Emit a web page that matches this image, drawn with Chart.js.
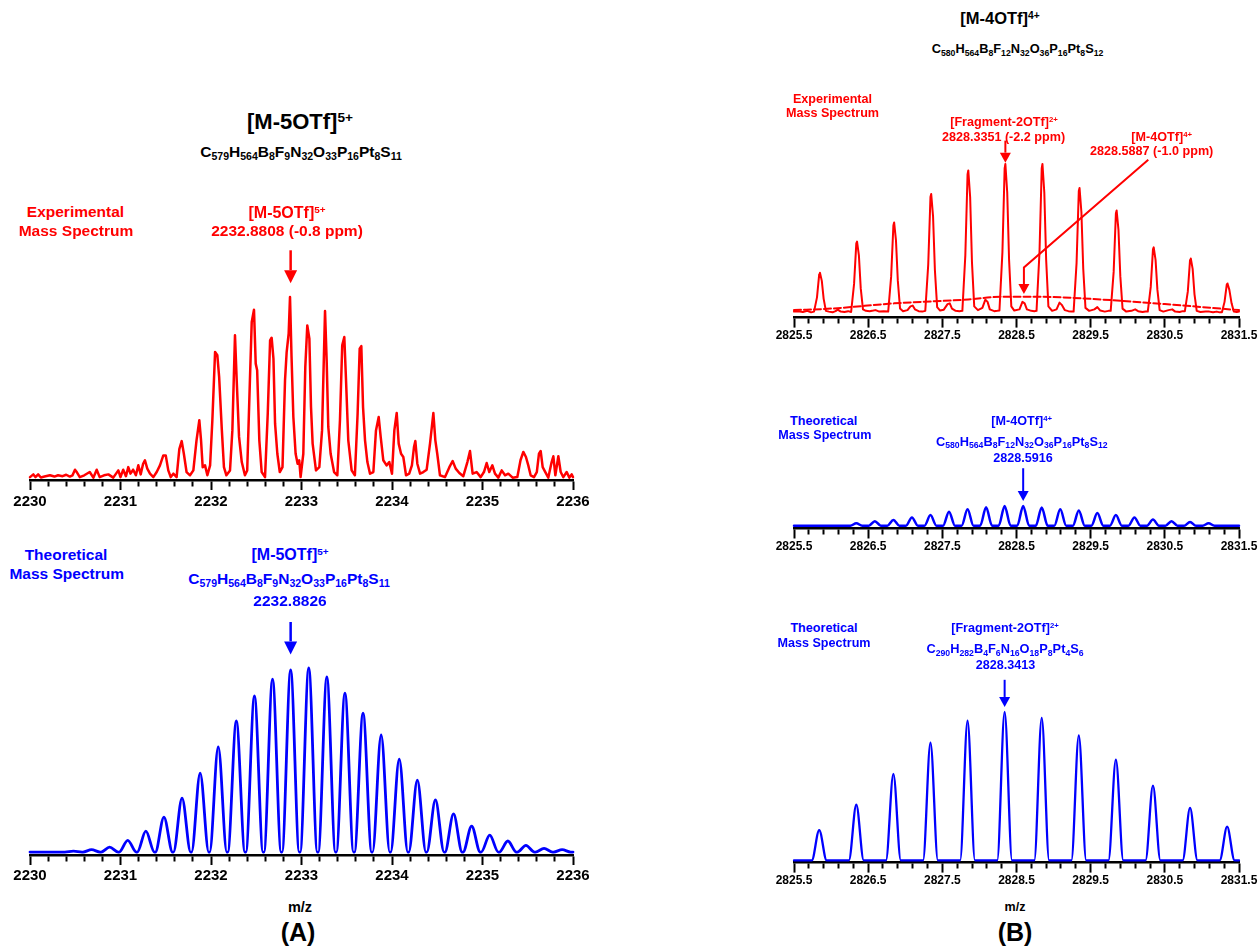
<!DOCTYPE html>
<html>
<head>
<meta charset="utf-8">
<script src="https://cdn.jsdelivr.net/npm/chart.js@4.4.1/dist/chart.umd.min.js"></script>
<style>
  body { margin: 0; background: #fff; }
  #fig { position: relative; width: 1260px; height: 949px; overflow: hidden; background: #fff;
         font-family: "Liberation Sans", Arial, Helvetica, sans-serif; }
  #fig canvas { position: absolute; }
  .t { position: absolute; transform: translate(-50%, -50%); white-space: nowrap; font-weight: bold; line-height: 1; }
  .t sup { font-size: 0.62em; position: relative; top: -0.5em; vertical-align: baseline; line-height: 0; }
  .t sub { font-size: 0.68em; position: relative; top: 0.28em; vertical-align: baseline; line-height: 0; }
</style>
</head>
<body>
<div id="fig">
  <canvas id="aExp"></canvas>
  <canvas id="aTheo"></canvas>
  <canvas id="bExp"></canvas>
  <canvas id="bTheo4"></canvas>
  <canvas id="bTheo2"></canvas>
</div>
<script>
const FONT = '"Liberation Sans", Arial, Helvetica, sans-serif';
const RED = '#ff0000';
const BLUE = '#0000ff';

// ---- tick labels ----
const ticksA = [2230, 2231, 2232, 2233, 2234, 2235, 2236];
const ticksB = [2825.5, 2826.5, 2827.5, 2828.5, 2829.5, 2830.5, 2831.5];

// ---- (A) experimental trace, [m/z, relative intensity] ----
const expA_trace = [
  [2230.00, 0.5], [2230.037, 2], [2230.06, 0.5], [2230.09, 2], [2230.12, 0.3], [2230.16, 0.8],
  [2230.22, 1.5], [2230.27, 0.8], [2230.31, 1.5], [2230.36, 1], [2230.40, 1.8], [2230.44, 0.8],
  [2230.47, 1.5], [2230.497, 4.6], [2230.52, 3], [2230.55, 0.5], [2230.60, 1.5], [2230.66, 3.3],
  [2230.70, 0.2], [2230.737, 4.6], [2230.77, 0.5], [2230.818, 1.5], [2230.866, 2], [2230.92, 0.2],
  [2230.976, 4.2], [2231.00, 0.5], [2231.03, 4.6], [2231.06, 1], [2231.086, 6], [2231.11, 2.4],
  [2231.14, 4.6], [2231.17, 1.5], [2231.197, 7], [2231.223, 2], [2231.25, 7.9], [2231.27, 9.8],
  [2231.296, 5.2], [2231.326, 2.4], [2231.363, 0.5], [2231.40, 3.3], [2231.436, 7], [2231.473, 12.5],
  [2231.50, 12.5], [2231.528, 4.2], [2231.555, 0.5], [2231.584, 2.4], [2231.62, 0.5], [2231.65, 16],
  [2231.676, 20.4], [2231.70, 13.4], [2231.73, 3.3], [2231.768, 1.5], [2231.805, 4.2], [2231.84, 20.8],
  [2231.871, 31.9], [2231.89, 20.8], [2231.908, 6], [2231.934, 7], [2231.96, 1.5], [2231.99, 7],
  [2232.015, 31.9], [2232.045, 69.6], [2232.07, 67.8], [2232.09, 55.8], [2232.12, 26.3], [2232.143, 6],
  [2232.17, 1.5], [2232.21, 4.2], [2232.236, 26.3], [2232.265, 78.8], [2232.284, 54], [2232.31, 22.7],
  [2232.34, 8.8], [2232.375, 1.5], [2232.40, 4.2], [2232.43, 54], [2232.45, 86.2], [2232.475, 93],
  [2232.494, 63.2], [2232.51, 59.5], [2232.534, 20.8], [2232.56, 3.3], [2232.597, 0.5], [2232.627, 35.5],
  [2232.653, 76], [2232.67, 77.5], [2232.69, 66], [2232.708, 30], [2232.733, 13.4], [2232.76, 3.3],
  [2232.79, 6], [2232.818, 54], [2232.836, 69.6], [2232.858, 79.7], [2232.873, 100], [2232.89, 66.9],
  [2232.91, 33.7], [2232.935, 13.4], [2232.957, 7.9], [2232.975, 9.8], [2232.99, 0.5], [2233.02, 13.4],
  [2233.042, 61.3], [2233.064, 84.3], [2233.087, 77], [2233.105, 39.2], [2233.123, 19], [2233.16, 4.2],
  [2233.197, 6], [2233.227, 26.3], [2233.26, 92.3], [2233.278, 65], [2233.296, 28.2], [2233.322, 13.4],
  [2233.36, 3.3], [2233.396, 1.5], [2233.425, 31.9], [2233.45, 73.3], [2233.473, 77.9], [2233.492, 54],
  [2233.517, 20.8], [2233.554, 4.2], [2233.59, 1.5], [2233.62, 35.5], [2233.643, 71.5], [2233.661, 72.9],
  [2233.68, 39.2], [2233.702, 20.8], [2233.728, 8.8], [2233.757, 2.4], [2233.794, 3.3], [2233.823, 26.3],
  [2233.853, 33.7], [2233.875, 22.7], [2233.904, 9.8], [2233.94, 7], [2233.97, 8.8], [2234.00, 2.4],
  [2234.026, 26.3], [2234.052, 35.9], [2234.074, 19], [2234.10, 13.4], [2234.125, 11.6], [2234.155, 1.5],
  [2234.19, 2.4], [2234.22, 7], [2234.243, 17.1], [2234.258, 20.4], [2234.28, 7.9], [2234.31, 2.4],
  [2234.346, 3.3], [2234.383, 4.6], [2234.42, 19], [2234.457, 35.9], [2234.479, 20.8], [2234.50, 13.4],
  [2234.53, 1.5], [2234.586, 0.5], [2234.634, 6], [2234.67, 9.4], [2234.704, 5.2], [2234.744, 2.8],
  [2234.788, 1], [2234.833, 8.8], [2234.862, 14.9], [2234.891, 2.4], [2234.935, 3.3], [2234.98, 0.5],
  [2235.016, 3.3], [2235.046, 8.3], [2235.075, 3.3], [2235.109, 7], [2235.138, 2.4], [2235.175, 0.2],
  [2235.212, 4.2], [2235.249, 1.5], [2235.285, 2.4], [2235.333, 0.2], [2235.385, 0.5], [2235.42, 9.8],
  [2235.451, 14.4], [2235.48, 11.6], [2235.506, 7], [2235.532, 1.5], [2235.569, 0.5], [2235.60, 3.3],
  [2235.624, 13.4], [2235.643, 14.9], [2235.665, 6], [2235.694, 3.3], [2235.727, 0.2], [2235.764, 8.8],
  [2235.783, 12], [2235.805, 1.5], [2235.838, 12], [2235.864, 3.3], [2235.893, 0.5], [2235.93, 3.3],
  [2235.96, 0.2], [2235.985, 2], [2236.00, 0.5]
];

// ---- (A) theoretical isotope peaks ----
const theoA_mz = [2230.48, 2230.68, 2230.88, 2231.08, 2231.28, 2231.48, 2231.68, 2231.88, 2232.08, 2232.28,
  2232.48, 2232.68, 2232.88, 2233.08, 2233.28, 2233.48, 2233.68, 2233.88, 2234.08, 2234.28,
  2234.48, 2234.68, 2234.88, 2235.08, 2235.28, 2235.48, 2235.68, 2235.88];
const theoA_int = [0.5, 1.3, 2.7, 6.4, 11.4, 19, 29.3, 42.9, 57.1, 71.2,
  84.8, 94, 98.9, 100, 95.1, 86.4, 75.5, 63.6, 50.5, 39.1,
  28.3, 20.7, 14.1, 9.2, 6, 3.6, 2, 1.3];

// ---- (B) experimental trace, [m/z, relative intensity] ----
const expB_trace = [
  [2825.50, 1.5], [2825.56, 1.8], [2825.62, 1.2], [2825.68, 2.0], [2825.73, 1.0],
  [2825.77, 1.5], [2825.81, 11], [2825.84, 26.5], [2825.85, 27.4], [2825.875, 22], [2825.90, 10], [2825.93, 2],
  [2825.97, 1.5], [2826.02, 1.0], [2826.06, 1.8], [2826.09, 2.8], [2826.13, 1.5], [2826.18, 1.2], [2826.23, 1.8],
  [2826.27, 1.2], [2826.31, 20], [2826.34, 47], [2826.35, 48.2], [2826.375, 39], [2826.40, 17], [2826.43, 3],
  [2826.47, 2], [2826.52, 1.8], [2826.57, 2.2], [2826.60, 2.5], [2826.65, 1.5], [2826.71, 1.8],
  [2826.77, 1.5], [2826.81, 25], [2826.84, 59], [2826.85, 61], [2826.875, 49], [2826.90, 22], [2826.93, 3.5],
  [2826.97, 1.8], [2827.03, 2.5], [2827.07, 5], [2827.10, 5.5], [2827.13, 3], [2827.18, 1.8], [2827.23, 1.5],
  [2827.27, 2], [2827.31, 33], [2827.34, 78], [2827.35, 80], [2827.375, 65], [2827.40, 29], [2827.43, 4.5],
  [2827.47, 2.2], [2827.52, 2.8], [2827.57, 6.5], [2827.60, 7], [2827.63, 3.5], [2827.68, 2], [2827.73, 1.8],
  [2827.77, 2], [2827.81, 39], [2827.84, 93], [2827.85, 95.7], [2827.875, 78], [2827.90, 34], [2827.93, 5],
  [2827.98, 2.5], [2828.04, 4], [2828.08, 9.5], [2828.11, 8], [2828.14, 3], [2828.20, 1.8], [2828.24, 2],
  [2828.27, 2.2], [2828.31, 41], [2828.34, 97], [2828.35, 100], [2828.375, 81], [2828.40, 36], [2828.43, 5],
  [2828.47, 2.2], [2828.54, 3], [2828.58, 8], [2828.61, 7], [2828.64, 3], [2828.70, 2], [2828.74, 1.8],
  [2828.77, 2], [2828.81, 41], [2828.84, 97], [2828.85, 100], [2828.875, 81], [2828.90, 36], [2828.93, 5],
  [2828.98, 2], [2829.04, 3], [2829.08, 7.5], [2829.11, 6], [2829.15, 2.5], [2829.20, 1.8], [2829.24, 1.5],
  [2829.27, 1.5], [2829.31, 34], [2829.34, 82], [2829.35, 84], [2829.375, 68], [2829.40, 30], [2829.43, 4],
  [2829.48, 2], [2829.55, 3], [2829.59, 4.5], [2829.63, 2.2], [2829.69, 1.5], [2829.74, 2],
  [2829.77, 2], [2829.81, 28], [2829.84, 67], [2829.85, 69], [2829.875, 56], [2829.90, 25], [2829.93, 3.5],
  [2829.98, 1.5], [2830.05, 2], [2830.10, 3], [2830.14, 1.8], [2830.20, 1.2], [2830.24, 1.5],
  [2830.27, 1.5], [2830.31, 18], [2830.34, 43], [2830.35, 44.4], [2830.375, 36], [2830.40, 16], [2830.43, 2.5],
  [2830.48, 1.5], [2830.55, 2.5], [2830.60, 3], [2830.64, 1.5], [2830.70, 1.2], [2830.74, 1.8],
  [2830.77, 1.8], [2830.81, 15], [2830.84, 36], [2830.85, 37], [2830.875, 30], [2830.90, 13], [2830.93, 2],
  [2830.98, 1.2], [2831.05, 1.5], [2831.10, 1.5], [2831.15, 1], [2831.20, 1.5], [2831.24, 1],
  [2831.27, 1], [2831.305, 8], [2831.335, 19.5], [2831.345, 20.3], [2831.37, 16], [2831.40, 7], [2831.43, 1.5],
  [2831.47, 1.2], [2831.50, 1.5]
];
// broad overlaid envelope in the experimental (B) panel
const envB_mz = [2825.5, 2826.0, 2826.85, 2827.85, 2828.3, 2828.8, 2829.5, 2830.5, 2831.5];
const envB_int = [2.5, 3.5, 7, 9.6, 11.4, 11.4, 10, 6.5, 2.5];

// ---- (B) theoretical [M-4OTf]4+ ----
const theoB4_mz = [2826.34, 2826.59, 2826.84, 2827.09, 2827.34, 2827.59, 2827.84, 2828.09, 2828.34, 2828.59,
  2828.84, 2829.09, 2829.34, 2829.59, 2829.84, 2830.09, 2830.34, 2830.59, 2830.84, 2831.09];
const theoB4_int = [12.5, 23, 29, 42, 54, 71, 83, 94, 100, 100, 92, 83, 77, 64, 54, 42, 31, 23, 19, 12.5];

// ---- (B) theoretical [Fragment-2OTf]2+ ----
const theoB2_mz = [2825.84, 2826.34, 2826.84, 2827.34, 2827.84, 2828.34, 2828.84, 2829.34, 2829.84, 2830.34, 2830.84, 2831.34];
const theoB2_int = [20.4, 37.5, 58.3, 79.4, 94.1, 100, 96, 84.3, 67.9, 50.4, 35.4, 22.7];

// ---- arrows: points in data units, last point is the tip ----
const ARROWS = {
  aExp: [{ pts: [[2232.88, 125.8], [2232.88, 107.6]], color: RED, lw: 2.5, head: 13, w: 13 }],
  aTheo: [{ pts: [[2232.88, 125], [2232.88, 107.4]], color: BLUE, lw: 2.5, head: 13, w: 13 }],
  bExp: [
    { pts: [[2828.35, 115.6], [2828.35, 100.9]], color: RED, lw: 2, head: 10, w: 11 },
    { pts: [[2830.277, 102.9], [2828.6, 31], [2828.6, 13.2]], color: RED, lw: 2, head: 10, w: 11 }
  ],
  bTheo4: [{ pts: [[2828.59, 292], [2828.59, 125]], color: BLUE, lw: 2, head: 10, w: 11 }],
  bTheo2: [{ pts: [[2828.34, 121.7], [2828.34, 103.4]], color: BLUE, lw: 2, head: 10, w: 11 }]
};

const arrowPlugin = {
  id: 'arrows',
  afterDatasetsDraw(chart) {
    const list = ARROWS[chart.canvas.id] || [];
    const { ctx } = chart;
    const xs = chart.scales.x, ys = chart.scales.y;
    list.forEach(a => {
      const p = a.pts.map(([vx, vy]) => [xs.getPixelForValue(vx), ys.getPixelForValue(vy)]);
      const n = p.length;
      const [tx, ty] = p[n - 1];
      const [px, py] = p[n - 2];
      const ang = Math.atan2(ty - py, tx - px);
      const bx = tx - Math.cos(ang) * a.head, by = ty - Math.sin(ang) * a.head;
      ctx.save();
      ctx.strokeStyle = a.color;
      ctx.fillStyle = a.color;
      ctx.lineWidth = a.lw;
      ctx.beginPath();
      ctx.moveTo(p[0][0], p[0][1]);
      for (let i = 1; i < n - 1; i++) ctx.lineTo(p[i][0], p[i][1]);
      ctx.lineTo(bx, by);
      ctx.stroke();
      ctx.beginPath();
      ctx.moveTo(tx, ty);
      ctx.lineTo(bx + Math.sin(ang) * a.w / 2, by - Math.cos(ang) * a.w / 2);
      ctx.lineTo(bx - Math.sin(ang) * a.w / 2, by + Math.cos(ang) * a.w / 2);
      ctx.closePath();
      ctx.fill();
      ctx.restore();
    });
  }
};

// stick peaks -> line vertices (base, apex, base)
function peakLine(mzs, ints, hw, xmin, xmax) {
  const pts = [{ x: xmin, y: 0 }];
  mzs.forEach((c, i) => {
    pts.push({ x: c - hw, y: 0 }, { x: c, y: ints[i] }, { x: c + hw, y: 0 });
  });
  pts.push({ x: xmax, y: 0 });
  return pts;
}

function xAxis(majors, size, fmt, pad) {
  const all = [];
  for (let i = 0; i < majors.length - 1; i++) {
    for (let k = 0; k < 5; k++) all.push(+(majors[i] + k * 0.2).toFixed(3));
  }
  all.push(majors[majors.length - 1]);
  const isMajor = v => majors.some(m => Math.abs(m - v) < 1e-6);
  return {
    type: 'linear',
    min: majors[0],
    max: majors[majors.length - 1],
    afterBuildTicks: axis => { axis.ticks = all.map(v => ({ value: v })); },
    ticks: {
      autoSkip: false, maxRotation: 0, padding: pad, color: '#000',
      font: { family: FONT, size: size, weight: 'bold' },
      callback: v => isMajor(v) ? fmt(v) : ''
    },
    grid: {
      display: true, drawOnChartArea: false, drawTicks: true,
      tickLength: 10, tickWidth: 2, tickColor: '#000',
      tickBorderDash: ctx => isMajor(ctx.tick.value) ? [] : [5, 40]
    },
    border: { display: true, color: '#000', width: 2.5 }
  };
}

function config(datasets, xOpts, ymin, ymax) {
  return {
    type: 'line',
    data: { datasets },
    options: {
      responsive: false, maintainAspectRatio: false, animation: false, events: [],
      layout: { padding: { left: 30, right: 30, top: 70, bottom: 4 } },
      plugins: { legend: { display: false }, tooltip: { enabled: false } },
      scales: { x: xOpts, y: { display: false, min: ymin, max: ymax } },
      elements: { point: { radius: 0 } }
    },
    plugins: [arrowPlugin]
  };
}

// build a chart and shift its canvas so the plot area lands on the given box
function place(id, makeConfig, box) {
  const canvas = document.getElementById(id);
  const areaW = box.right - box.left, areaH = box.bottom - box.top;
  let w = Math.round(areaW + 60), h = Math.round(areaH + 110);
  canvas.width = w; canvas.height = h;
  let chart = new Chart(canvas, makeConfig());
  let ca = chart.chartArea;
  const dw = Math.round(areaW - (ca.right - ca.left));
  const dh = Math.round(areaH - (ca.bottom - ca.top));
  if (dw !== 0 || dh !== 0) {
    chart.destroy();
    canvas.width = w + dw; canvas.height = h + dh;
    chart = new Chart(canvas, makeConfig());
    ca = chart.chartArea;
  }
  canvas.style.left = (box.left - ca.left) + 'px';
  canvas.style.top = (box.top - ca.top) + 'px';
  return chart;
}

const fmtA = v => String(Math.round(v));
const fmtB = v => v.toFixed(1);
const lineStyle = { pointRadius: 0, clip: false, borderJoinStyle: 'round', borderCapStyle: 'round', fill: false };

place('aExp', () => config([
  Object.assign({ data: expA_trace.map(([x, y]) => ({ x, y })), borderColor: RED, borderWidth: 2.5, tension: 0 }, lineStyle)
], xAxis(ticksA, 15, fmtA, 3), -1.1, 100), { left: 30, right: 572.7, top: 296.7, bottom: 479.7 });

place('aTheo', () => config([
  Object.assign({ data: peakLine(theoA_mz, theoA_int, 0.095, 2230, 2236), borderColor: BLUE, borderWidth: 2.8,
    cubicInterpolationMode: 'monotone' }, lineStyle)
], xAxis(ticksA, 15, fmtA, 2), -1.6, 100), { left: 30, right: 572.7, top: 667.7, bottom: 854.7 });

place('bExp', () => config([
  Object.assign({ data: expB_trace.map(([x, y]) => ({ x, y })), borderColor: RED, borderWidth: 2, tension: 0 }, lineStyle),
  Object.assign({ data: envB_mz.map((x, i) => ({ x, y: envB_int[i] })), borderColor: RED, borderWidth: 2,
    borderDash: [7, 3], cubicInterpolationMode: 'monotone' }, lineStyle)
], xAxis(ticksB, 12, fmtB, 1), -2.5, 100), { left: 794.3, right: 1239, top: 164.3, bottom: 317.5 });

place('bTheo4', () => config([
  Object.assign({ data: peakLine(theoB4_mz, theoB4_int, 0.08, 2825.5, 2831.5), borderColor: BLUE, borderWidth: 2.5,
    cubicInterpolationMode: 'monotone' }, lineStyle)
], xAxis(ticksB, 12, fmtB, 1), -14.4, 100), { left: 794.3, right: 1239, top: 505.7, bottom: 524 });

place('bTheo2', () => config([
  Object.assign({ data: peakLine(theoB2_mz, theoB2_int, 0.1, 2825.5, 2831.5), borderColor: BLUE, borderWidth: 2.3,
    cubicInterpolationMode: 'monotone' }, lineStyle)
], xAxis(ticksB, 12, fmtB, 1), -1.5, 100), { left: 794.3, right: 1239, top: 712.3, bottom: 863.3 });

// ---- text: [centre x, centre y, font size, colour, html] ----
const formulaA = 'C<sub>579</sub>H<sub>564</sub>B<sub>8</sub>F<sub>9</sub>N<sub>32</sub>O<sub>33</sub>P<sub>16</sub>Pt<sub>8</sub>S<sub>11</sub>';
const formulaB = 'C<sub>580</sub>H<sub>564</sub>B<sub>8</sub>F<sub>12</sub>N<sub>32</sub>O<sub>36</sub>P<sub>16</sub>Pt<sub>8</sub>S<sub>12</sub>';
const formulaF = 'C<sub>290</sub>H<sub>282</sub>B<sub>4</sub>F<sub>6</sub>N<sub>16</sub>O<sub>18</sub>P<sub>8</sub>Pt<sub>4</sub>S<sub>6</sub>';
const TEXTS = [
  [300, 122, 22, '#000', '[M-5OTf]<sup>5+</sup>'],
  [301, 152, 15.5, '#000', formulaA],
  [75.5, 211.7, 15.5, RED, 'Experimental'],
  [76, 230.7, 15.5, RED, 'Mass Spectrum'],
  [287, 213, 16, RED, '[M-5OTf]<sup>5+</sup>'],
  [287, 231, 15.5, RED, '2232.8808 (-0.8 ppm)'],
  [66, 555, 15.5, BLUE, 'Theoretical'],
  [66.7, 574, 15.5, BLUE, 'Mass Spectrum'],
  [290, 555, 16, BLUE, '[M-5OTf]<sup>5+</sup>'],
  [289, 579, 15.5, BLUE, formulaA],
  [290, 600.7, 15.5, BLUE, '2232.8826'],
  [300, 906.7, 14.5, '#000', 'm/z'],
  [298, 932, 25, '#000', '(A)'],

  [1000, 18, 16.5, '#000', '[M-4OTf]<sup>4+</sup>'],
  [1017.5, 49.3, 12.8, '#000', formulaB],
  [832.5, 99, 12.6, RED, 'Experimental'],
  [832.5, 113.3, 12.6, RED, 'Mass Spectrum'],
  [1004, 121.7, 12.6, RED, '[Fragment-2OTf]<sup>2+</sup>'],
  [1003.5, 137.3, 12.6, RED, '2828.3351 (-2.2 ppm)'],
  [1161.7, 136.7, 12.6, RED, '[M-4OTf]<sup>4+</sup>'],
  [1151.7, 150.7, 12.6, RED, '2828.5887 (-1.0 ppm)'],
  [823.7, 420.7, 12.6, BLUE, 'Theoretical'],
  [824.8, 435, 12.6, BLUE, 'Mass Spectrum'],
  [1021.7, 420.7, 12.6, BLUE, '[M-4OTf]<sup>4+</sup>'],
  [1021.8, 441.5, 12.8, BLUE, formulaB],
  [1023, 458.3, 12.6, BLUE, '2828.5916'],
  [824, 628.3, 12.6, BLUE, 'Theoretical'],
  [824, 643.3, 12.6, BLUE, 'Mass Spectrum'],
  [1005, 628.3, 12.6, BLUE, '[Fragment-2OTf]<sup>2+</sup>'],
  [1005, 649.3, 12.8, BLUE, formulaF],
  [1005.6, 665, 12.6, BLUE, '2828.3413'],
  [1015, 907.3, 12.5, '#000', 'm/z'],
  [1015, 932, 25, '#000', '(B)']
];

const fig = document.getElementById('fig');
TEXTS.forEach(([x, y, size, color, html]) => {
  const d = document.createElement('div');
  d.className = 't';
  d.style.left = x + 'px';
  d.style.top = y + 'px';
  d.style.fontSize = size + 'px';
  d.style.color = color;
  d.innerHTML = html;
  fig.appendChild(d);
});
</script>
</body>
</html>
